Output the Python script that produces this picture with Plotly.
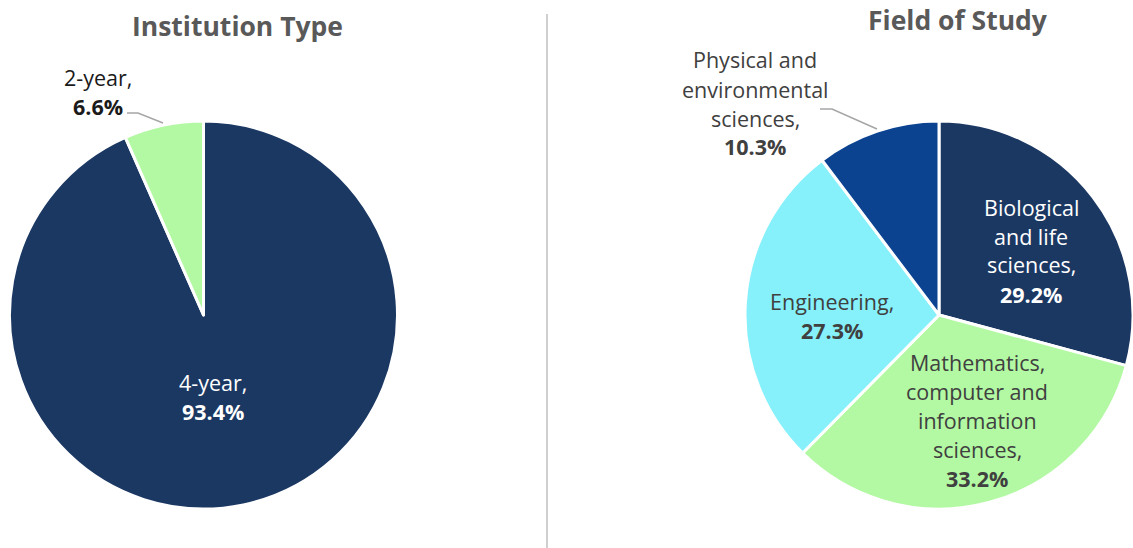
import plotly.graph_objects as go

W, H = 1133, 548

# ---- data ----
inst_labels = ["4-year", "2-year"]
inst_values = [93.4, 6.6]
inst_colors = ["#1B3863", "#B3F9A3"]

field_labels = ["Biological<br>and life<br>sciences",
                "Mathematics,<br>computer and<br>information<br>sciences",
                "Engineering",
                "Physical and<br>environmental<br>sciences"]
field_values = [29.2, 33.2, 27.3, 10.3]
field_colors = ["#1B3863", "#B3F9A3", "#86F1FB", "#0B4391"]

titles = ["Institution Type", "Field of Study"]

FONT = "Open Sans"
LABEL_SIZE = 21.5
TITLE_SIZE = 26.5


def px(x):
    return x / W


def py(y):
    return 1 - y / H


R = 194
left_c = (203.5, 315)
right_c = (939, 315)
dx = right_c[0] - 947  # shift applied to right-pie elements

fig = go.Figure()
fig.add_trace(go.Pie(
    labels=inst_labels, values=inst_values, sort=False, direction="clockwise",
    rotation=0, marker=dict(colors=inst_colors, line=dict(color="white", width=3)),
    textinfo="none", hoverinfo="label+percent",
    domain=dict(x=[px(left_c[0] - R), px(left_c[0] + R)],
                y=[py(left_c[1] + R), py(left_c[1] - R)]),
))
fig.add_trace(go.Pie(
    labels=[l.replace("<br>", " ") for l in field_labels], values=field_values,
    sort=False, direction="clockwise", rotation=0,
    marker=dict(colors=field_colors, line=dict(color="white", width=3)),
    textinfo="none", hoverinfo="label+percent",
    domain=dict(x=[px(right_c[0] - R), min(1.0, px(right_c[0] + R))],
                y=[py(right_c[1] + R), py(right_c[1] - R)]),
))

annotations = []
LS = 29


def label(lines_text, value, cx, cy_first, color):
    lines = lines_text.split("<br>")
    lines[-1] = lines[-1] + ("," if not lines[-1].endswith(",") else "")
    for i, ln in enumerate(lines):
        annotations.append(dict(
            x=px(cx), y=py(cy_first + i * LS), xref="paper", yref="paper",
            text=ln, showarrow=False, xanchor="center", yanchor="middle",
            font=dict(family=FONT, size=LABEL_SIZE, color=color)))
    annotations.append(dict(
        x=px(cx), y=py(cy_first + len(lines) * LS), xref="paper", yref="paper",
        text="<b>%.1f%%</b>" % value, showarrow=False, xanchor="center",
        yanchor="middle", font=dict(family=FONT, size=LABEL_SIZE, color=color)))


# Left pie labels
label(inst_labels[0], inst_values[0], 213, 382, "#FFFFFF")
label(inst_labels[1], inst_values[1], 98, 77, "#1A1A1A")

# Right pie labels
label(field_labels[0], field_values[0], 1039 + dx, 207, "#FFFFFF")
label(field_labels[1], field_values[1], 985 + dx, 362, "#404040")
label(field_labels[2], field_values[2], 840 + dx, 301, "#404040")
label(field_labels[3], field_values[3], 755, 60, "#404040")

# Titles
annotations.append(dict(x=px(237), y=py(26), xref="paper", yref="paper",
                        text="<b>%s</b>" % titles[0], showarrow=False,
                        xanchor="center", yanchor="middle",
                        font=dict(family=FONT, size=TITLE_SIZE, color="#595959")))
annotations.append(dict(x=px(958), y=py(20), xref="paper", yref="paper",
                        text="<b>%s</b>" % titles[1], showarrow=False,
                        xanchor="center", yanchor="middle",
                        font=dict(family=FONT, size=TITLE_SIZE, color="#595959")))

shapes = [
    # divider
    dict(type="line", xref="paper", yref="paper", x0=px(547), x1=px(547),
         y0=py(14), y1=py(548), line=dict(color="#BFBFBF", width=1.5)),
    # leader lines
    dict(type="path", xref="paper", yref="paper",
         path="M %f,%f L %f,%f L %f,%f" % (px(127), py(113), px(138), py(113), px(163), py(123)),
         line=dict(color="#A6A6A6", width=1.5)),
    dict(type="path", xref="paper", yref="paper",
         path="M %f,%f L %f,%f L %f,%f" % (px(820), py(109), px(832), py(109), px(885 + dx), py(129)),
         line=dict(color="#A6A6A6", width=1.5)),
]

fig.update_layout(
    width=W, height=H, autosize=False,
    margin=dict(l=0, r=0, t=0, b=0),
    paper_bgcolor="white", plot_bgcolor="white",
    showlegend=False, annotations=annotations, shapes=shapes,
)

fig.write_html("out.html")
